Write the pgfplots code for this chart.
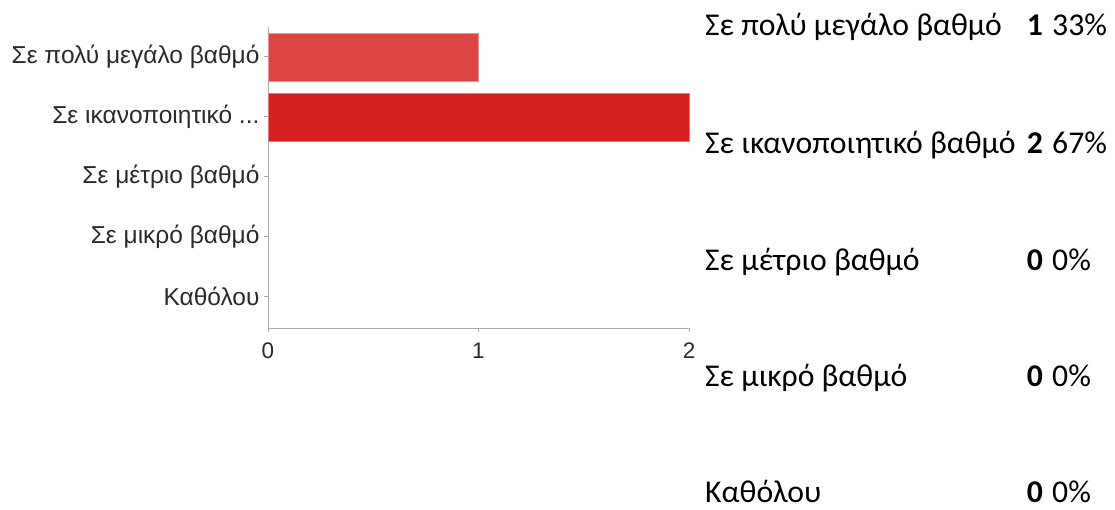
\documentclass[border=0pt]{standalone}
\usepackage{pgfplots}
\pgfplotsset{compat=1.18}
\usepackage{fontspec}
\setmainfont{Liberation Sans}
\newfontfamily\calfont{Carlito}
\definecolor{barA}{HTML}{DC4446}
\definecolor{barB}{HTML}{D42020}
\definecolor{axgray}{HTML}{AAAAAA}
\definecolor{lbl}{HTML}{2A2A2A}
\begin{document}
\begin{tikzpicture}
\path[use as bounding box] (0pt,0pt) rectangle (1115pt,-509pt);
\begin{axis}[
  at={(268pt,-328pt)}, anchor=south west,
  width=421pt, height=301pt, scale only axis,
  xmin=0, xmax=2, ymin=-0.5, ymax=4.52,
  y dir=reverse,
  axis x line=bottom, axis y line=left,
  axis line style={axgray, line width=1pt, -},
  xtick={0,1,2}, ytick={0,1,2,3,4},
  yticklabels={{Σε πολύ μεγάλο βαθμό}, {Σε ικανοποιητικό .{}.{}.}, {Σε μέτριο βαθμό}, {Σε μικρό βαθμό}, {Καθόλου}},
  tick align=outside, major tick length=4pt,
  tick style={axgray, line width=1pt},
  /pgf/number format/assume math mode=true,
  xticklabel style={font=\fontsize{22.5}{26}\selectfont, text=lbl, yshift=-7pt},
  yticklabel style={font=\fontsize{24.5}{28}\selectfont, text=lbl, xshift=-1pt},
  xbar, bar width=48pt, bar shift=0pt,
  clip=false,
]
\addplot[fill=barA, draw=barA!60!white, line width=0.6pt] coordinates {(1,0)};
\addplot[fill=barB, draw=barB!60!white, line width=0.6pt] coordinates {(2,1)};
\end{axis}
\begin{scope}[every node/.style={inner sep=0pt, font=\calfont\fontsize{31.7}{36}\selectfont}]
\node[anchor=base west] at (705pt,-35pt) {Σε πολύ μεγάλο βαθμό};
\node[anchor=base east] at (1043pt,-35pt) {\textbf{1}};
\node[anchor=base west] at (1052pt,-35pt) {33\%};
\node[anchor=base west] at (705pt,-153pt) {Σε ικανοποιητικό βαθμό};
\node[anchor=base east] at (1043pt,-153pt) {\textbf{2}};
\node[anchor=base west] at (1052pt,-153pt) {67\%};
\node[anchor=base west] at (705pt,-270pt) {Σε μέτριο βαθμό};
\node[anchor=base east] at (1043pt,-270pt) {\textbf{0}};
\node[anchor=base west] at (1052pt,-270pt) {0\%};
\node[anchor=base west] at (705pt,-386pt) {Σε μικρό βαθμό};
\node[anchor=base east] at (1043pt,-386pt) {\textbf{0}};
\node[anchor=base west] at (1052pt,-386pt) {0\%};
\node[anchor=base west] at (705pt,-502pt) {Καθόλου};
\node[anchor=base east] at (1043pt,-502pt) {\textbf{0}};
\node[anchor=base west] at (1052pt,-502pt) {0\%};
\end{scope}
\end{tikzpicture}
\end{document}
